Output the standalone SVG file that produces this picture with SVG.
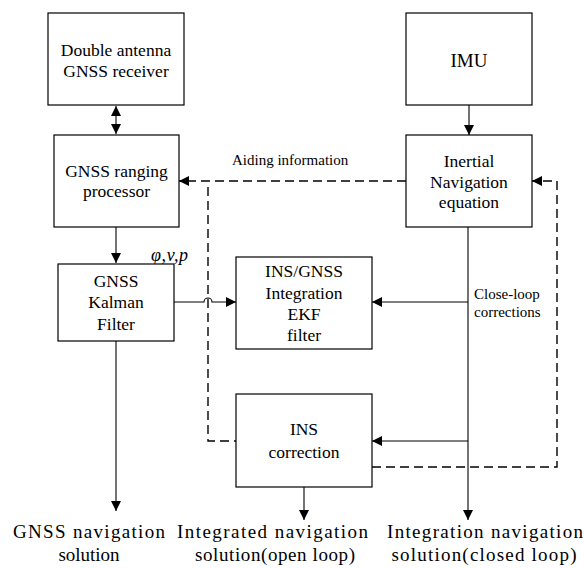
<svg xmlns="http://www.w3.org/2000/svg" width="584" height="568" viewBox="0 0 584 568" font-family="'Liberation Serif', 'DejaVu Serif', serif">
<style>
.box{fill:#fff;stroke:#000;stroke-width:1.2}
.t{font-family:'Liberation Serif','DejaVu Serif',serif;font-size:17.5px;fill:#000;text-anchor:middle}
.s{font-family:'Liberation Serif','DejaVu Serif',serif;font-size:15px;fill:#000}
.b{font-family:'Liberation Serif','DejaVu Serif',serif;font-size:19px;fill:#000;text-anchor:middle}
.ln{fill:none;stroke:#000;stroke-width:1.1}
.dash{fill:none;stroke:#000;stroke-width:1.4;stroke-dasharray:9,5}
</style>
<defs>
<marker id="ah" viewBox="0 0 10 10" refX="10" refY="5" markerWidth="10" markerHeight="10" markerUnits="userSpaceOnUse" orient="auto">
<path d="M0,0 L10,5 L0,10 Z" fill="#000"/>
</marker>
<marker id="ahs" viewBox="0 0 10 10" refX="10" refY="5" markerWidth="10" markerHeight="10" markerUnits="userSpaceOnUse" orient="auto-start-reverse">
<path d="M0,0 L10,5 L0,10 Z" fill="#000"/>
</marker>
</defs>
<rect width="584" height="568" fill="#fff"/>
<g id="connectors">
<path class="ln" d="M116,106 V134" marker-start="url(#ahs)" marker-end="url(#ahs)"/>
<path class="ln" d="M116,227 V263" marker-end="url(#ah)"/>
<path class="ln" d="M174,302 H204 A4,4 0 0 1 212,302 H236" marker-end="url(#ah)"/>
<path class="ln" d="M116,341 V511" marker-end="url(#ah)"/>
<path class="ln" d="M469,105 V135" marker-end="url(#ah)"/>
<path class="ln" d="M468,227 V520" marker-end="url(#ah)"/>
<path class="ln" d="M468,302 H372" marker-end="url(#ah)"/>
<path class="ln" d="M468,441 H372" marker-end="url(#ah)"/>
<path class="ln" d="M304,487 V520" marker-end="url(#ah)"/>
<path class="dash" d="M406,181 H179" marker-end="url(#ah)"/>
<path class="dash" d="M208,187 V441 H236"/>
<path class="dash" d="M372,467 H557 V181 H532" marker-end="url(#ah)"/>
<text class="s" x="232" y="165">Aiding information</text>
<text class="s" x="474" y="299">Close-loop</text>
<text class="s" x="474" y="317">corrections</text>
<text class="s" x="151" y="261" style="font-size:18px;font-style:italic" textLength="37">φ,v,p</text>
</g>
<g id="receiver">
<rect class="box" x="48" y="13" width="136" height="92"/>
<text class="t" x="116" y="56">Double antenna</text>
<text class="t" x="116" y="77">GNSS receiver</text>
</g>
<g id="ranging">
<rect class="box" x="54" y="135" width="125" height="92"/>
<text class="t" x="116.5" y="177">GNSS ranging</text>
<text class="t" x="116.5" y="197">processor</text>
</g>
<g id="kalman">
<rect class="box" x="58" y="264" width="116" height="77"/>
<text class="t" x="116" y="287">GNSS</text>
<text class="t" x="116" y="308">Kalman</text>
<text class="t" x="116" y="330">Filter</text>
</g>
<g id="ekf">
<rect class="box" x="236" y="257" width="136" height="92"/>
<text class="t" x="304" y="277">INS/GNSS</text>
<text class="t" x="304" y="299">Integration</text>
<text class="t" x="304" y="320">EKF</text>
<text class="t" x="304" y="341">filter</text>
</g>
<g id="inscorr">
<rect class="box" x="236" y="394" width="136" height="93"/>
<text class="t" x="304" y="435">INS</text>
<text class="t" x="304" y="458">correction</text>
</g>
<g id="imu">
<rect class="box" x="406" y="13" width="126" height="92"/>
<text class="t" x="469" y="67" style="font-size:19px">IMU</text>
</g>
<g id="inertial">
<rect class="box" x="406" y="135" width="126" height="92"/>
<text class="t" x="469" y="167">Inertial</text>
<text class="t" x="469" y="188">Navigation</text>
<text class="t" x="469" y="208">equation</text>
</g>
<g id="outputs">
<text class="b" x="89" y="538" textLength="152">GNSS navigation</text>
<text class="b" x="89" y="561">solution</text>
<text class="b" x="272.5" y="538" textLength="191">Integrated navigation</text>
<text class="b" x="275" y="561" textLength="160">solution(open loop)</text>
<text class="b" x="485" y="538" textLength="196">Integration navigation</text>
<text class="b" x="484" y="561" textLength="185">solution(closed loop)</text>
</g>
</svg>
